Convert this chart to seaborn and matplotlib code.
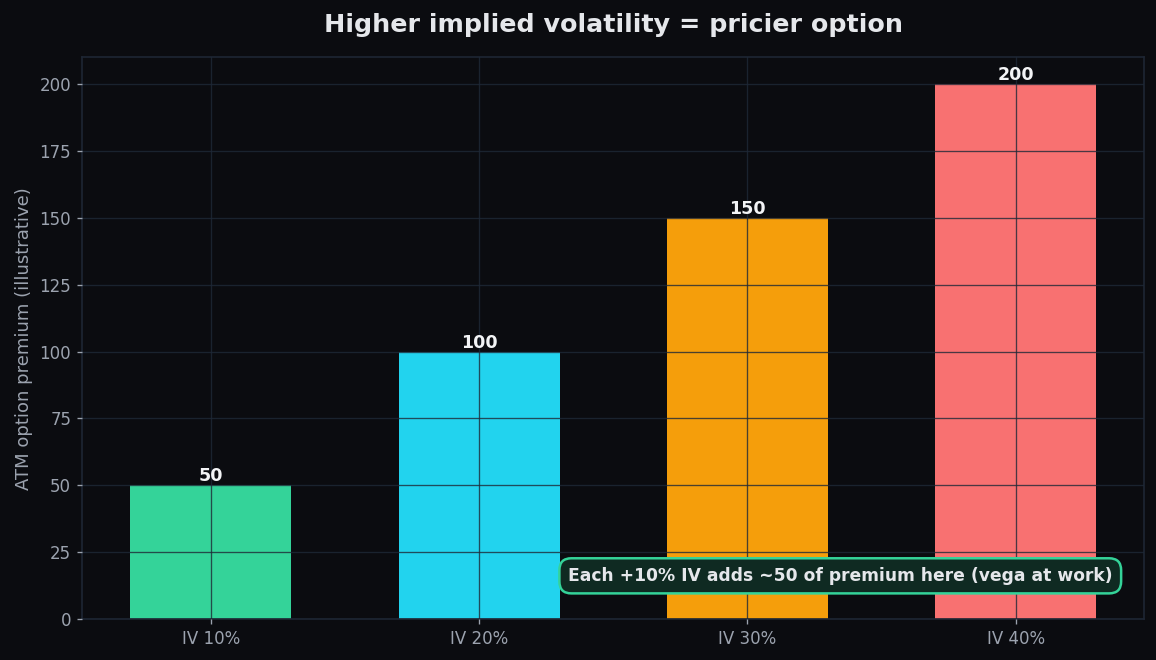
import pandas as pd
import seaborn as sns
import matplotlib
matplotlib.use("Agg")
import matplotlib.pyplot as plt

# data
labels = ["IV 10%", "IV 20%", "IV 30%", "IV 40%"]
premium = [50, 100, 150, 200]
colors = ["#34d399", "#22d3ee", "#f59e0b", "#f87171"]

bg = "#0b0c10"
muted = "#9ca3af"
gridc = "#1f2937"

sns.set_theme(style="dark", rc={
    "figure.facecolor": bg,
    "axes.facecolor": bg,
    "axes.edgecolor": "#1e2633",
    "axes.labelcolor": muted,
    "xtick.color": muted,
    "ytick.color": muted,
    "text.color": "#e5e7eb",
})
plt.rcParams["font.family"] = ["DejaVu Sans"]

df = pd.DataFrame({"iv": labels, "premium": premium})

fig, ax = plt.subplots(figsize=(1156 / 120, 660 / 120), dpi=120)
sns.barplot(data=df, x="iv", y="premium", hue="iv", palette=colors,
            width=0.6, legend=False, saturation=1, linewidth=0, ax=ax)

ax.set_xlim(-0.48, 3.48)
ax.set_ylim(0, 210)
ax.set_axisbelow(False)
ax.grid(True, color=gridc, alpha=0.8, linewidth=0.8)
ax.tick_params(axis="both", length=3, width=0.8, labelsize=10, colors=muted,
               bottom=True, left=True)
for s in ax.spines.values():
    s.set_color("#1e2633")
    s.set_linewidth(1)

for cont in ax.containers:
    ax.bar_label(cont, fmt="%d", padding=0, fontsize=10.5, fontweight="bold",
                 color="#f3f4f6")

ax.set_xlabel("")
ax.set_ylabel("ATM option premium (illustrative)", fontsize=10.8, color=muted)
ax.set_title("Higher implied volatility = pricier option", fontsize=15.2,
             fontweight="bold", color="#e5e7eb", pad=15)

ax.text(0.97, 0.077, "Each +10% IV adds ~50 of premium here (vega at work)",
        transform=ax.transAxes, ha="right", va="center", fontsize=10.27,
        fontweight="bold", color="#e5e7eb", zorder=5,
        bbox=dict(boxstyle="round,pad=0.5,rounding_size=0.7",
                  facecolor="#0f2a22", edgecolor="#34d399", linewidth=1.5))

fig.subplots_adjust(left=0.071, right=0.99, top=0.913, bottom=0.062)
fig.savefig("out.png", dpi=120, facecolor=bg)
